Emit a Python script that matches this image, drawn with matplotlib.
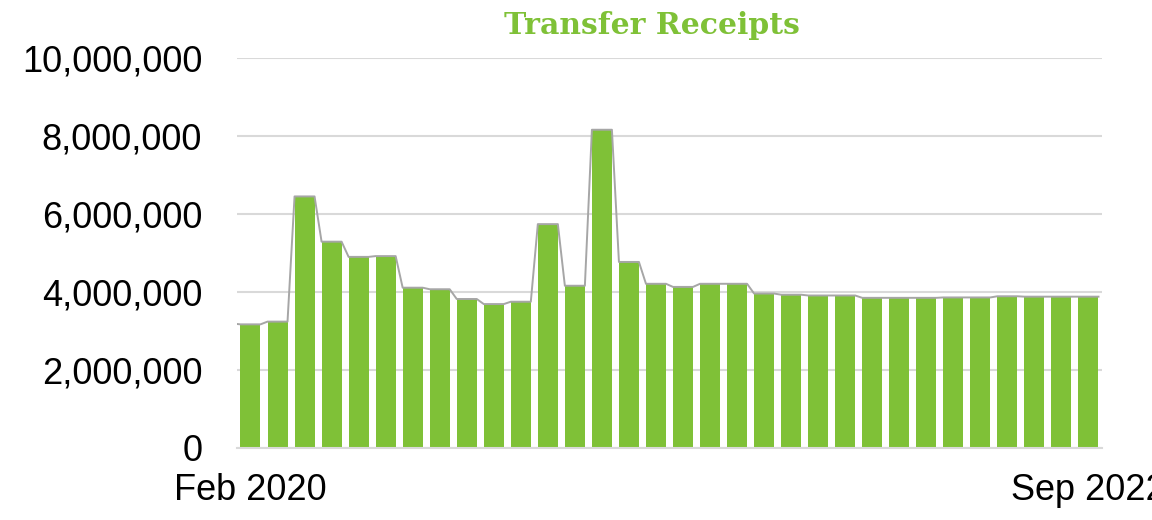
import numpy as np
import pandas as pd
import matplotlib
matplotlib.use('Agg')
import matplotlib.pyplot as plt
from matplotlib.ticker import FuncFormatter

# monthly transfer receipts, Feb 2020 - Sep 2022
months = pd.date_range('2020-02-01', '2022-09-01', freq='MS')
receipts = [3.17, 3.24, 6.45, 5.29, 4.90, 4.92, 4.11, 4.07, 3.82, 3.69,
            3.75, 5.74, 4.16, 8.16, 4.77, 4.21, 4.13, 4.21, 4.21, 3.96,
            3.93, 3.91, 3.91, 3.85, 3.85, 3.85, 3.86, 3.86, 3.89, 3.88,
            3.88, 3.88]
receipts = np.array(receipts) * 1e6
shown_ticks = [0, len(months) - 1]
tick_labels = [months[i].strftime('%b %Y') for i in shown_ticks]

GREEN = '#7FC137'
GREY_LINE = '#A6A6A6'
GRID = '#D9D9D9'

plt.rcParams['font.family'] = ['Liberation Sans', 'DejaVu Sans']

fig = plt.figure(figsize=(11.52, 5.2), dpi=100)
ax = fig.add_axes([0.2057, 0.1385, 0.7509, 0.75])

x = np.arange(len(receipts))
width = 0.74
ax.bar(x, receipts, width=width, color=GREEN, zorder=2)

# grey line running along the bar tops
lx = np.column_stack([x - width / 2, x + width / 2]).ravel()
ly = np.repeat(receipts, 2)
lx = np.concatenate([[-0.5], lx])
ly = np.concatenate([[receipts[0] * 1.003], ly])
ax.plot(lx, ly, color=GREY_LINE, lw=1.4, zorder=3, solid_joinstyle='round')

ax.set_xlim(-0.5, len(receipts) - 0.5)
ax.set_ylim(0, 10e6)
ax.set_yticks(np.arange(0, 10e6 + 1, 2e6))
ax.yaxis.set_major_formatter(FuncFormatter(lambda v, p: f'{v:,.0f}'))
ax.grid(axis='y', color=GRID, lw=1.5, zorder=0)
ax.set_axisbelow(True)

ax.set_xticks(shown_ticks)
ax.set_xticklabels(tick_labels)
ax.tick_params(axis='x', length=0, pad=18, labelsize=26)
ax.tick_params(axis='y', length=0, pad=25, labelsize=26)

for s in ['top', 'right', 'left']:
    ax.spines[s].set_visible(False)
ax.spines['bottom'].set_color(GRID)
ax.spines['bottom'].set_linewidth(1.5)

fig.text(651.5 / 1152, 1 - 26 / 520, 'Transfer Receipts', color=GREEN,
         fontsize=21.5, fontweight='bold', family=['DejaVu Serif'],
         ha='center', va='center')

fig.savefig('out.png', dpi=100)
